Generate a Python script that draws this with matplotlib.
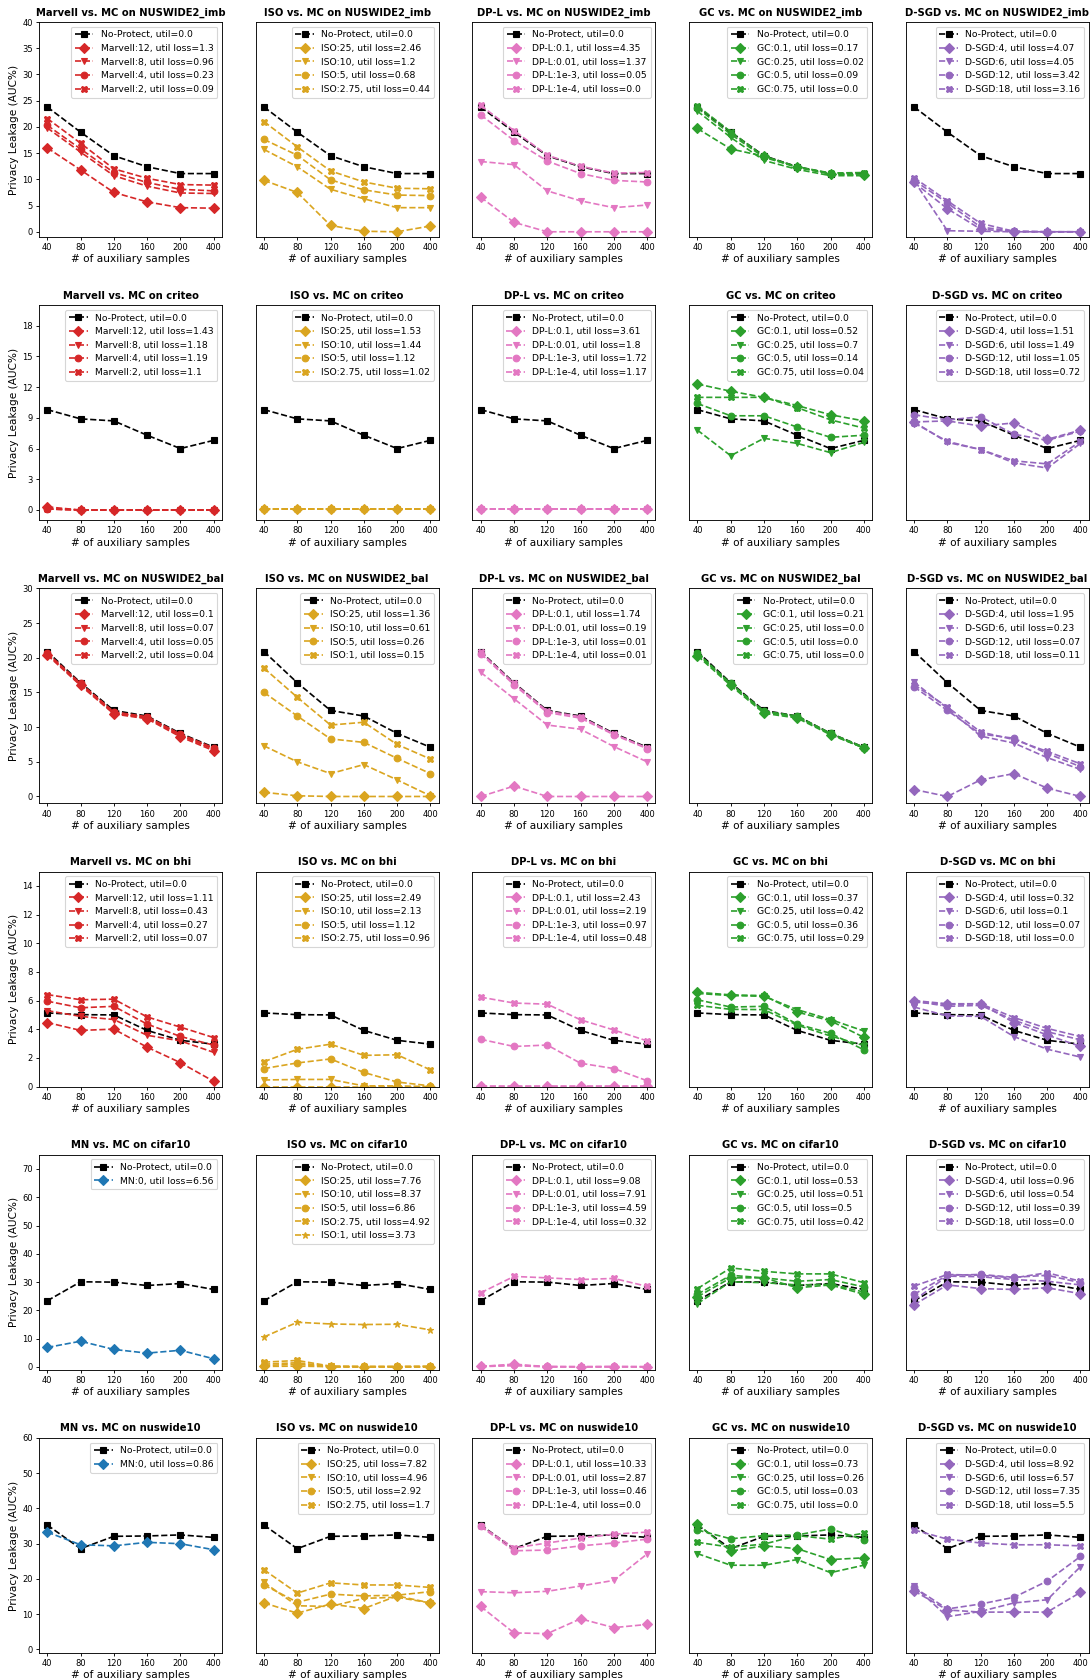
import matplotlib
matplotlib.use('Agg')
import matplotlib.pyplot as plt

# x axis: number of auxiliary samples (categorical)
x_labels = ['40', '80', '120', '160', '200', '400']

datasets = ['NUSWIDE2_imb', 'criteo', 'NUSWIDE2_bal', 'bhi', 'cifar10', 'nuswide10']

# No-Protect baseline per dataset
np_imb = [23.8, 19.0, 14.5, 12.4, 11.1, 11.1]
np_criteo = [9.8, 8.9, 8.7, 7.3, 6.0, 6.8]
np_bal = [20.9, 16.4, 12.4, 11.6, 9.1, 7.1]
np_bhi = [5.14, 5.02, 5.0, 3.92, 3.23, 2.96]
np_cifar = [23.4, 30.1, 30.0, 28.8, 29.5, 27.4]
np_nus10 = [35.3, 28.6, 32.1, 32.2, 32.5, 31.8]

# ---- NUSWIDE2_imb ----
imb_marvell = [[16.0, 11.8, 7.5, 5.7, 4.6, 4.5],
               [19.8, 15.2, 10.7, 8.7, 7.4, 7.3],
               [20.3, 15.8, 11.3, 9.4, 8.1, 7.8],
               [21.6, 16.9, 12.0, 10.2, 9.0, 8.9]]
imb_marvell_lbl = ['Marvell:12, util loss=1.3', 'Marvell:8, util loss=0.96',
                   'Marvell:4, util loss=0.23', 'Marvell:2, util loss=0.09']
imb_iso = [[9.8, 7.5, 1.2, 0.1, 0.0, 1.1],
           [15.7, 12.4, 8.1, 6.3, 4.6, 4.6],
           [17.6, 14.6, 9.9, 8.0, 7.0, 6.9],
           [21.0, 16.2, 11.6, 9.5, 8.3, 8.2]]
imb_iso_lbl = ['ISO:25, util loss=2.46', 'ISO:10, util loss=1.2',
               'ISO:5, util loss=0.68', 'ISO:2.75, util loss=0.44']
imb_dpl = [[6.6, 1.8, 0.0, 0.0, 0.0, 0.0],
           [13.4, 12.8, 7.8, 5.9, 4.6, 5.1],
           [22.3, 17.4, 13.5, 11.1, 9.8, 9.5],
           [24.1, 19.3, 14.6, 12.5, 11.2, 11.3]]
imb_dpl_lbl = ['DP-L:0.1, util loss=4.35', 'DP-L:0.01, util loss=1.37',
               'DP-L:1e-3, util loss=0.05', 'DP-L:1e-4, util loss=0.0']
imb_gc = [[19.7, 15.8, 14.4, 12.3, 11.0, 10.8],
          [23.0, 18.0, 13.6, 11.9, 10.7, 10.7],
          [23.6, 18.6, 14.2, 12.3, 11.1, 11.0],
          [24.0, 19.1, 14.4, 12.4, 11.2, 11.3]]
imb_gc_lbl = ['GC:0.1, util loss=0.17', 'GC:0.25, util loss=0.02',
              'GC:0.5, util loss=0.09', 'GC:0.75, util loss=0.0']
imb_dsgd = [[9.4, 4.4, 0.5, 0.0, 0.0, 0.0],
            [9.7, 0.2, 0.1, 0.0, 0.0, 0.0],
            [9.8, 5.5, 0.9, 0.1, 0.0, 0.0],
            [10.3, 5.9, 1.6, 0.1, 0.0, 0.0]]
imb_dsgd_lbl = ['D-SGD:4, util loss=4.07', 'D-SGD:6, util loss=4.05',
                'D-SGD:12, util loss=3.42', 'D-SGD:18, util loss=3.16']

# ---- criteo ----
criteo_marvell = [[0.3, 0.0, 0.0, 0.0, 0.0, 0.0],
                  [0.1, 0.0, 0.0, 0.0, 0.0, 0.0],
                  [0.1, 0.0, 0.0, 0.0, 0.0, 0.0],
                  [0.1, 0.0, 0.0, 0.0, 0.0, 0.0]]
criteo_marvell_lbl = ['Marvell:12, util loss=1.43', 'Marvell:8, util loss=1.18',
                      'Marvell:4, util loss=1.19', 'Marvell:2, util loss=1.1']
criteo_iso = [[0.05, 0.05, 0.05, 0.05, 0.05, 0.05],
              [0.05, 0.05, 0.05, 0.05, 0.05, 0.05],
              [0.05, 0.05, 0.05, 0.05, 0.05, 0.05],
              [0.05, 0.05, 0.05, 0.05, 0.05, 0.05]]
criteo_iso_lbl = ['ISO:25, util loss=1.53', 'ISO:10, util loss=1.44',
                  'ISO:5, util loss=1.12', 'ISO:2.75, util loss=1.02']
criteo_dpl = [[0.05, 0.05, 0.05, 0.05, 0.05, 0.05],
              [0.05, 0.05, 0.05, 0.05, 0.05, 0.05],
              [0.05, 0.05, 0.05, 0.05, 0.05, 0.05],
              [0.05, 0.05, 0.05, 0.05, 0.05, 0.05]]
criteo_dpl_lbl = ['DP-L:0.1, util loss=3.61', 'DP-L:0.01, util loss=1.8',
                  'DP-L:1e-3, util loss=1.72', 'DP-L:1e-4, util loss=1.17']
criteo_gc = [[12.3, 11.6, 11.0, 10.2, 9.3, 8.7],
             [7.8, 5.3, 7.0, 6.5, 5.6, 6.6],
             [10.4, 9.2, 9.2, 8.1, 7.1, 7.3],
             [11.0, 11.0, 11.0, 10.0, 8.8, 8.0]]
criteo_gc_lbl = ['GC:0.1, util loss=0.52', 'GC:0.25, util loss=0.7',
                 'GC:0.5, util loss=0.14', 'GC:0.75, util loss=0.04']
criteo_dsgd = [[8.6, 8.7, 8.2, 8.5, 6.9, 7.8],
               [8.6, 6.6, 5.9, 4.6, 4.1, 6.5],
               [9.3, 8.8, 9.1, 7.4, 6.8, 7.7],
               [8.5, 6.7, 5.9, 4.8, 4.5, 6.7]]
criteo_dsgd_lbl = ['D-SGD:4, util loss=1.51', 'D-SGD:6, util loss=1.49',
                   'D-SGD:12, util loss=1.05', 'D-SGD:18, util loss=0.72']

# ---- NUSWIDE2_bal ----
bal_marvell = [[20.4, 16.0, 11.9, 11.2, 8.6, 6.6],
               [20.6, 16.1, 12.0, 11.3, 8.8, 6.8],
               [20.7, 16.3, 12.2, 11.5, 9.0, 7.0],
               [20.5, 16.2, 12.1, 11.4, 8.9, 6.9]]
bal_marvell_lbl = ['Marvell:12, util loss=0.1', 'Marvell:8, util loss=0.07',
                   'Marvell:4, util loss=0.05', 'Marvell:2, util loss=0.04']
bal_iso = [[0.6, 0.1, 0.0, 0.0, 0.0, 0.0],
           [7.3, 5.0, 3.3, 4.6, 2.4, 0.1],
           [15.0, 11.6, 8.3, 7.8, 5.5, 3.3],
           [18.5, 14.3, 10.3, 10.7, 7.5, 5.4]]
bal_iso_lbl = ['ISO:25, util loss=1.36', 'ISO:10, util loss=0.61',
               'ISO:5, util loss=0.26', 'ISO:1, util loss=0.15']
bal_dpl = [[0.0, 1.5, 0.0, 0.0, 0.0, 0.0],
           [17.9, 14.1, 10.3, 9.7, 7.2, 5.0],
           [20.6, 16.1, 12.1, 11.3, 8.9, 6.9],
           [20.8, 16.3, 12.3, 11.5, 9.0, 7.0]]
bal_dpl_lbl = ['DP-L:0.1, util loss=1.74', 'DP-L:0.01, util loss=0.19',
               'DP-L:1e-3, util loss=0.01', 'DP-L:1e-4, util loss=0.01']
bal_gc = [[20.3, 16.0, 12.0, 11.3, 8.9, 7.0],
          [20.5, 16.2, 12.2, 11.5, 9.0, 7.0],
          [20.7, 16.3, 12.3, 11.6, 9.1, 7.1],
          [20.6, 16.2, 12.2, 11.5, 9.0, 7.0]]
bal_gc_lbl = ['GC:0.1, util loss=0.21', 'GC:0.25, util loss=0.0',
              'GC:0.5, util loss=0.0', 'GC:0.75, util loss=0.0']
bal_dsgd = [[1.0, 0.0, 2.4, 3.3, 1.2, 0.0],
            [16.5, 12.7, 8.7, 7.7, 5.6, 3.9],
            [15.8, 12.4, 9.0, 8.4, 6.2, 4.3],
            [16.1, 12.9, 9.3, 8.2, 6.5, 4.7]]
bal_dsgd_lbl = ['D-SGD:4, util loss=1.95', 'D-SGD:6, util loss=0.23',
                'D-SGD:12, util loss=0.07', 'D-SGD:18, util loss=0.11']

# ---- bhi ----
bhi_marvell = [[4.47, 3.92, 4.01, 2.75, 1.67, 0.37],
               [5.3, 4.9, 4.68, 3.58, 3.19, 2.39],
               [5.96, 5.5, 5.6, 4.36, 3.5, 2.89],
               [6.42, 6.06, 6.1, 4.86, 4.15, 3.42]]
bhi_marvell_lbl = ['Marvell:12, util loss=1.11', 'Marvell:8, util loss=0.43',
                   'Marvell:4, util loss=0.27', 'Marvell:2, util loss=0.07']
bhi_iso = [[0.0, 0.0, 0.0, 0.0, 0.0, 0.0],
           [0.46, 0.5, 0.5, 0.05, 0.05, 0.0],
           [1.26, 1.65, 1.93, 0.99, 0.32, 0.05],
           [1.74, 2.6, 2.96, 2.18, 2.22, 1.17]]
bhi_iso_lbl = ['ISO:25, util loss=2.49', 'ISO:10, util loss=2.13',
               'ISO:5, util loss=1.12', 'ISO:2.75, util loss=0.96']
bhi_dpl = [[0.05, 0.05, 0.05, 0.05, 0.05, 0.05],
           [0.0, 0.0, 0.0, 0.0, 0.0, 0.0],
           [3.3, 2.8, 2.9, 1.63, 1.26, 0.41],
           [6.24, 5.83, 5.75, 4.66, 3.95, 3.19]]
bhi_dpl_lbl = ['DP-L:0.1, util loss=2.43', 'DP-L:0.01, util loss=2.19',
               'DP-L:1e-3, util loss=0.97', 'DP-L:1e-4, util loss=0.48']
bhi_gc = [[6.58, 6.4, 6.35, 5.2, 4.59, 3.44],
          [6.5, 6.35, 6.3, 5.37, 4.68, 3.88],
          [6.06, 5.55, 5.6, 4.36, 3.72, 2.57],
          [5.67, 5.39, 5.37, 4.29, 3.53, 2.87]]
bhi_gc_lbl = ['GC:0.1, util loss=0.37', 'GC:0.25, util loss=0.42',
              'GC:0.5, util loss=0.36', 'GC:0.75, util loss=0.29']
bhi_dsgd = [[6.0, 5.78, 5.78, 4.47, 3.6, 2.8],
            [5.55, 4.93, 4.9, 3.49, 2.61, 2.06],
            [5.96, 5.6, 5.67, 4.63, 3.83, 3.26],
            [5.9, 5.73, 5.78, 4.82, 4.06, 3.49]]
bhi_dsgd_lbl = ['D-SGD:4, util loss=0.32', 'D-SGD:6, util loss=0.1',
                'D-SGD:12, util loss=0.07', 'D-SGD:18, util loss=0.0']

# ---- cifar10 ----
cifar_mn = [[6.9, 9.1, 6.2, 4.9, 5.9, 2.9]]
cifar_mn_lbl = ['MN:0, util loss=6.56']
cifar_iso = [[0.2, 0.3, 0.1, 0.1, 0.1, 0.1],
             [1.0, 1.5, 0.2, 0.1, 0.1, 0.1],
             [0.5, 1.0, 0.0, 0.0, 0.0, 0.0],
             [1.7, 2.3, 0.3, 0.2, 0.2, 0.3],
             [10.6, 15.8, 15.2, 15.0, 15.1, 13.1]]
cifar_iso_lbl = ['ISO:25, util loss=7.76', 'ISO:10, util loss=8.37',
                 'ISO:5, util loss=6.86', 'ISO:2.75, util loss=4.92',
                 'ISO:1, util loss=3.73']
cifar_dpl = [[0.2, 1.0, 0.1, 0.1, 0.1, 0.1],
             [0.1, 0.5, 0.0, 0.0, 0.0, 0.0],
             [0.3, 0.6, 0.2, 0.1, 0.2, 0.1],
             [26.2, 32.0, 31.5, 30.9, 31.3, 28.5]]
cifar_dpl_lbl = ['DP-L:0.1, util loss=9.08', 'DP-L:0.01, util loss=7.91',
                 'DP-L:1e-3, util loss=4.59', 'DP-L:1e-4, util loss=0.32']
cifar_gc = [[24.8, 31.5, 31.5, 28.0, 29.0, 25.7],
            [22.4, 30.1, 29.8, 29.0, 29.2, 26.5],
            [25.7, 32.4, 31.5, 30.3, 30.9, 28.3],
            [27.7, 35.0, 33.8, 32.9, 32.9, 29.8]]
cifar_gc_lbl = ['GC:0.1, util loss=0.53', 'GC:0.25, util loss=0.51',
                'GC:0.5, util loss=0.5', 'GC:0.75, util loss=0.42']
cifar_dsgd = [[22.0, 29.0, 27.7, 27.4, 28.0, 25.9],
              [23.6, 32.1, 31.9, 30.9, 30.3, 29.0],
              [25.7, 32.4, 32.7, 31.7, 32.4, 29.8],
              [28.6, 32.7, 32.4, 31.5, 33.3, 30.3]]
cifar_dsgd_lbl = ['D-SGD:4, util loss=0.96', 'D-SGD:6, util loss=0.54',
                  'D-SGD:12, util loss=0.39', 'D-SGD:18, util loss=0.0']

# ---- nuswide10 ----
nus10_mn = [[33.3, 29.7, 29.4, 30.4, 30.0, 28.3]]
nus10_mn_lbl = ['MN:0, util loss=0.86']
nus10_iso = [[13.2, 10.3, 12.9, 11.6, 15.2, 13.2],
             [19.0, 12.4, 12.2, 14.5, 14.8, 13.2],
             [18.3, 13.4, 15.7, 15.2, 15.4, 16.4],
             [22.6, 16.0, 18.9, 18.3, 18.3, 17.6]]
nus10_iso_lbl = ['ISO:25, util loss=7.82', 'ISO:10, util loss=4.96',
                 'ISO:5, util loss=2.92', 'ISO:2.75, util loss=1.7']
nus10_dpl = [[12.2, 4.7, 4.5, 8.7, 6.2, 7.1],
             [16.4, 16.1, 16.5, 18.0, 19.6, 27.1],
             [34.9, 28.0, 28.2, 29.4, 30.2, 31.3],
             [35.1, 28.8, 30.2, 31.6, 32.7, 33.3]]
nus10_dpl_lbl = ['DP-L:0.1, util loss=10.33', 'DP-L:0.01, util loss=2.87',
                 'DP-L:1e-3, util loss=0.46', 'DP-L:1e-4, util loss=0.0']
nus10_gc = [[35.6, 27.9, 29.4, 28.6, 25.5, 26.0],
            [27.2, 23.9, 23.9, 25.5, 21.8, 23.9],
            [33.9, 31.4, 32.3, 32.5, 34.2, 31.1],
            [30.4, 29.0, 29.9, 32.3, 31.3, 33.0]]
nus10_gc_lbl = ['GC:0.1, util loss=0.73', 'GC:0.25, util loss=0.26',
                'GC:0.5, util loss=0.03', 'GC:0.75, util loss=0.0']
nus10_dsgd = [[16.6, 11.2, 10.6, 10.6, 10.6, 16.2],
              [18.0, 9.3, 10.8, 13.2, 14.1, 23.5],
              [17.6, 11.5, 12.9, 14.8, 19.4, 26.4],
              [33.9, 31.3, 30.2, 29.7, 29.7, 29.4]]
nus10_dsgd_lbl = ['D-SGD:4, util loss=8.92', 'D-SGD:6, util loss=6.57',
                  'D-SGD:12, util loss=7.35', 'D-SGD:18, util loss=5.5']

# y limits / ticks per row
row_ylims = [(-1, 40), (-1, 20), (-1, 30), (0, 15), (-1, 75), (-1, 60)]
row_yticks = [range(0, 41, 5), range(0, 19, 3), range(0, 31, 5),
              range(0, 15, 2), range(0, 71, 10), range(0, 61, 10)]

np_rows = [np_imb, np_criteo, np_bal, np_bhi, np_cifar, np_nus10]
panels = [
    [('Marvell', imb_marvell, imb_marvell_lbl), ('ISO', imb_iso, imb_iso_lbl),
     ('DP-L', imb_dpl, imb_dpl_lbl), ('GC', imb_gc, imb_gc_lbl), ('D-SGD', imb_dsgd, imb_dsgd_lbl)],
    [('Marvell', criteo_marvell, criteo_marvell_lbl), ('ISO', criteo_iso, criteo_iso_lbl),
     ('DP-L', criteo_dpl, criteo_dpl_lbl), ('GC', criteo_gc, criteo_gc_lbl), ('D-SGD', criteo_dsgd, criteo_dsgd_lbl)],
    [('Marvell', bal_marvell, bal_marvell_lbl), ('ISO', bal_iso, bal_iso_lbl),
     ('DP-L', bal_dpl, bal_dpl_lbl), ('GC', bal_gc, bal_gc_lbl), ('D-SGD', bal_dsgd, bal_dsgd_lbl)],
    [('Marvell', bhi_marvell, bhi_marvell_lbl), ('ISO', bhi_iso, bhi_iso_lbl),
     ('DP-L', bhi_dpl, bhi_dpl_lbl), ('GC', bhi_gc, bhi_gc_lbl), ('D-SGD', bhi_dsgd, bhi_dsgd_lbl)],
    [('MN', cifar_mn, cifar_mn_lbl), ('ISO', cifar_iso, cifar_iso_lbl),
     ('DP-L', cifar_dpl, cifar_dpl_lbl), ('GC', cifar_gc, cifar_gc_lbl), ('D-SGD', cifar_dsgd, cifar_dsgd_lbl)],
    [('MN', nus10_mn, nus10_mn_lbl), ('ISO', nus10_iso, nus10_iso_lbl),
     ('DP-L', nus10_dpl, nus10_dpl_lbl), ('GC', nus10_gc, nus10_gc_lbl), ('D-SGD', nus10_dsgd, nus10_dsgd_lbl)],
]

colors = {'Marvell': '#d62728', 'MN': '#1f77b4', 'ISO': '#DAA520',
          'DP-L': '#e377c2', 'GC': '#2ca02c', 'D-SGD': '#9467bd'}
markers = ['D', 'v', 'o', 'X', '*']

# rendered at 80 dpi -> 1091 x 1680 px
fig, axes = plt.subplots(6, 5, figsize=(1091 / 80, 1680 / 80), dpi=80)
plt.subplots_adjust(left=0.0357, right=0.998, top=1 - 22 / 1680, bottom=1 - 1653 / 1680,
                    wspace=0.184, hspace=0.317)

xs = list(range(len(x_labels)))
for r in range(6):
    for c in range(5):
        ax = axes[r, c]
        name, series, labels = panels[r][c]
        ax.plot(xs, np_rows[r], '--', color='black', marker='s', markersize=6,
                linewidth=1.5, label='No-Protect, util=0.0')
        for i, (vals, lbl) in enumerate(zip(series, labels)):
            ax.plot(xs, vals, '--', color=colors[name], marker=markers[i],
                    markersize=6, linewidth=1.5, label=lbl)
        ax.set_title(f'{name} vs. MC on {datasets[r]}', fontsize=9, fontweight='bold')
        ax.set_xticks(xs)
        ax.set_xticklabels(x_labels)
        ax.tick_params(axis='both', labelsize=7.5, length=3, pad=2.5)
        ax.set_xlabel('# of auxiliary samples', fontsize=9.5, labelpad=2)
        ax.set_ylim(*row_ylims[r])
        ax.set_yticks(list(row_yticks[r]))
        if c == 0:
            ax.set_ylabel('Privacy Leakage (AUC%)', fontsize=9.5, labelpad=3)
        else:
            ax.tick_params(axis='y', left=False, labelleft=False)
        ax.legend(loc='upper right', fontsize=8.33)

plt.savefig('out.png', dpi=80)
